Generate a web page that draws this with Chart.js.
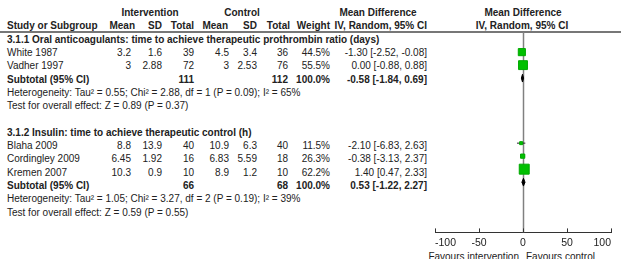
<!DOCTYPE html>
<html>
<head>
<meta charset="utf-8">
<script src="https://cdn.jsdelivr.net/npm/chart.js@4.4.0/dist/chart.umd.min.js"></script>
<style>
  html, body { margin: 0; padding: 0; background: #fff; }
  body { width: 621px; height: 259px; position: relative; overflow: hidden; }
  .t { position: absolute; white-space: nowrap; font: 10px "Liberation Sans", Arial, sans-serif; color: #222; height: 13.3px; line-height: 13.3px; }
  .b { font-weight: bold; }
  #rule { position: absolute; left: 0; top: 31px; width: 621px; height: 2px; background: #777; }
  #plot { position: absolute; left: 420px; top: 0; }
</style>
</head>
<body>
<div id="rule"></div>
<div id="tbl"></div>
<canvas id="plot" width="201" height="259"></canvas>
<script>
/* forest plot — table as html text, plot through Chart.js scales */

const groupTitles = [
  '3.1.1 Oral anticoagulants: time to achieve therapeutic prothrombin ratio (days)',
  '3.1.2 Insulin: time to achieve therapeutic control (h)'
];
const studies    = ['White 1987', 'Vadher 1997', 'Blaha 2009', 'Cordingley 2009', 'Kremen 2007'];
const studyGroup = [0, 0, 1, 1, 1];
const intMean  = [3.2, 3, 8.8, 6.45, 10.3];
const intSD    = [1.6, 2.88, 13.9, 1.92, 0.9];
const intTotal = [39, 72, 40, 16, 10];
const ctlMean  = [4.5, 3, 10.9, 6.83, 8.9];
const ctlSD    = [3.4, 2.53, 6.3, 5.59, 1.2];
const ctlTotal = [36, 76, 40, 18, 10];
const weights  = [44.5, 55.5, 11.5, 26.3, 62.2];
const md   = [-1.30, 0.00, -2.10, -0.38, 1.40];
const mdLo = [-2.52, -0.88, -6.83, -3.13, 0.47];
const mdHi = [-0.08, 0.88, 2.63, 2.37, 2.33];

const subIntTotal = [111, 66];
const subCtlTotal = [112, 68];
const subMd   = [-0.58, 0.53];
const subLo   = [-1.84, -1.22];
const subHi   = [0.69, 2.27];
const hetText = [
  'Heterogeneity: Tau² = 0.55; Chi² = 2.88, df = 1 (P = 0.09); I² = 65%',
  'Heterogeneity: Tau² = 1.05; Chi² = 3.27, df = 2 (P = 0.19); I² = 39%'
];
const effectText = [
  'Test for overall effect: Z = 0.89 (P = 0.37)',
  'Test for overall effect: Z = 0.59 (P = 0.55)'
];
const xTicks = [-100, -50, 0, 50, 100];
const favours = ['Favours intervention', 'Favours control'];

// layout
const ROW0 = 12.7, ROW_H = 13.3;
const COL = { intMean: 131, intSD: 162, intTotal: 194, ctlMean: 229, ctlSD: 257, ctlTotal: 288, weight: 330, md: 427 };
const GREEN = '#00c000';
const FONT = '"Liberation Sans", Arial, sans-serif';

const tbl = document.getElementById('tbl');
function put(text, top, x, align, bold) {
  const d = document.createElement('div');
  d.className = 't' + (bold ? ' b' : '');
  d.textContent = text;
  d.style.top = top + 'px';
  if (align === 'right') { d.style.left = (x - 300) + 'px'; d.style.width = '300px'; d.style.textAlign = 'right'; }
  else if (align === 'center') { d.style.left = (x - 150) + 'px'; d.style.width = '300px'; d.style.textAlign = 'center'; }
  else d.style.left = x + 'px';
  tbl.appendChild(d);
}
const rowTop = r => ROW0 + ROW_H * r - ROW_H / 2;
const ci = (v, lo, hi) => v.toFixed(2) + ' [' + lo.toFixed(2) + ', ' + hi.toFixed(2) + ']';

// header
put('Intervention', rowTop(0), 150, 'center', true);
put('Control', rowTop(0), 242, 'center', true);
put('Mean Difference', rowTop(0), 378, 'center', true);
put('Mean Difference', rowTop(0), 523, 'center', true);
put('Study or Subgroup', rowTop(1), 7, 'left', true);
put('Mean', rowTop(1), 135, 'right', true);
put('SD', rowTop(1), 162, 'right', true);
put('Total', rowTop(1), 194, 'right', true);
put('Mean', rowTop(1), 228, 'right', true);
put('SD', rowTop(1), 257, 'right', true);
put('Total', rowTop(1), 290, 'right', true);
put('Weight', rowTop(1), 330, 'right', true);
put('IV, Random, 95% CI', rowTop(1), 427, 'right', true);
put('IV, Random, 95% CI', rowTop(1), 522, 'center', true);

// body rows
const studyRow = [], subRow = [];
let r = 2;
groupTitles.forEach((title, g) => {
  put(title, rowTop(r++), 7, 'left', true);
  studies.forEach((s, i) => {
    if (studyGroup[i] !== g) return;
    const t = rowTop(r);
    put(s, t, 7, 'left');
    put(String(intMean[i]), t, COL.intMean, 'right');
    put(String(intSD[i]), t, COL.intSD, 'right');
    put(String(intTotal[i]), t, COL.intTotal, 'right');
    put(String(ctlMean[i]), t, COL.ctlMean, 'right');
    put(String(ctlSD[i]), t, COL.ctlSD, 'right');
    put(String(ctlTotal[i]), t, COL.ctlTotal, 'right');
    put(weights[i].toFixed(1) + '%', t, COL.weight, 'right');
    put(ci(md[i], mdLo[i], mdHi[i]), t, COL.md, 'right');
    studyRow[i] = r++;
  });
  const t = rowTop(r);
  put('Subtotal (95% CI)', t, 7, 'left', true);
  put(String(subIntTotal[g]), t, COL.intTotal, 'right', true);
  put(String(subCtlTotal[g]), t, COL.ctlTotal, 'right', true);
  put('100.0%', t, COL.weight, 'right', true);
  put(ci(subMd[g], subLo[g], subHi[g]), t, COL.md, 'right', true);
  subRow[g] = r++;
  put(hetText[g], rowTop(r++), 7, 'left');
  put(effectText[g], rowTop(r++), 7, 'left');
  r++; // blank line between groups
});

put(favours[0], 250, 519, 'right');
put(favours[1], 250, 526, 'left');

// chart datasets
const whiskers = studies.map((s, i) => ({
  type: 'line',
  data: [{ x: mdLo[i], y: studyRow[i] }, { x: mdHi[i], y: studyRow[i] }],
  borderColor: '#222', borderWidth: 1, pointRadius: 0, order: 3
}));
const squares = {
  type: 'scatter',
  data: studies.map((s, i) => ({ x: md[i], y: studyRow[i] })),
  pointStyle: 'rect',
  pointRadius: weights.map(w => Math.max(3, w * 0.16) / Math.SQRT2),
  backgroundColor: GREEN, borderColor: '#00a800', borderWidth: 1, order: 2
};
const DH = 0.3; // diamond half height in rows
const diamonds = subMd.map((v, g) => ({
  type: 'line',
  data: [
    { x: subLo[g], y: subRow[g] }, { x: v, y: subRow[g] - DH },
    { x: subHi[g], y: subRow[g] }, { x: v, y: subRow[g] + DH },
    { x: subLo[g], y: subRow[g] }
  ],
  borderColor: '#000', backgroundColor: '#000', borderWidth: 1,
  pointRadius: 0, tension: 0, fill: 'shape', order: 1
}));

const refLines = {
  id: 'refLines',
  beforeDatasetsDraw(chart) {
    const { ctx, chartArea, scales: { x } } = chart;
    ctx.save();
    ctx.strokeStyle = '#808080';
    ctx.lineWidth = 1.5;
    const x0 = Math.round(x.getPixelForValue(0)) + 0.5;
    ctx.beginPath();
    ctx.moveTo(x0, chartArea.top);
    ctx.lineTo(x0, chartArea.bottom);
    ctx.stroke();
    ctx.strokeStyle = '#333';
    ctx.lineWidth = 1;
    xTicks.forEach(v => {
      const px = Math.round(x.getPixelForValue(v)) + 0.5;
      ctx.beginPath();
      ctx.moveTo(px, chartArea.bottom - 4);
      ctx.lineTo(px, chartArea.bottom);
      ctx.stroke();
    });
    ctx.restore();
  }
};

const yTop = (32 - ROW0) / ROW_H, yBottom = (237 - ROW0) / ROW_H;

new Chart(document.getElementById('plot'), {
  type: 'scatter',
  data: { datasets: [...whiskers, squares, ...diamonds] },
  options: {
    responsive: false, animation: false,
    layout: { padding: { left: 15, right: 10, top: 32, bottom: 6 } },
    plugins: { legend: { display: false }, tooltip: { enabled: false } },
    scales: {
      x: {
        type: 'linear', min: -100, max: 100, position: 'bottom',
        afterBuildTicks: s => { s.ticks = xTicks.map(v => ({ value: v })); },
        grid: { display: false, drawTicks: false },
        border: { display: true, color: '#333', width: 1 },
        ticks: { align: 'inner', padding: 4, color: '#222', autoSkip: false, maxRotation: 0, font: { family: FONT, size: 10.5 } }
      },
      y: { type: 'linear', display: false, reverse: true, min: yTop, max: yBottom }
    }
  },
  plugins: [refLines]
});
</script>
</body>
</html>
